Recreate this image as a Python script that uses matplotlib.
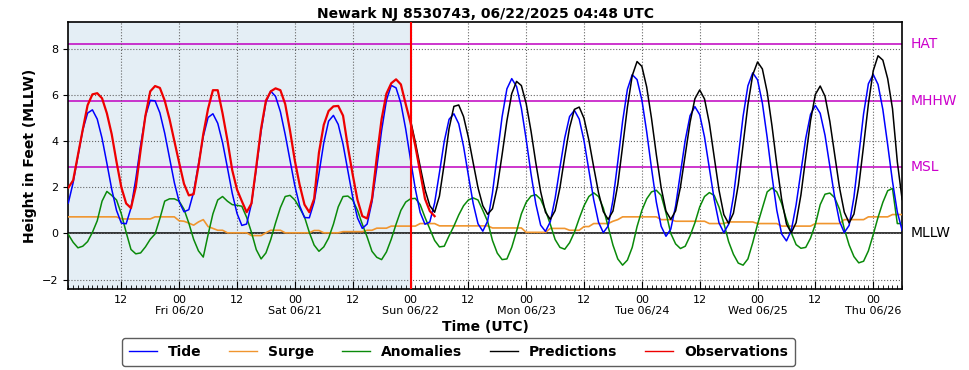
import numpy as np
import matplotlib
matplotlib.use("Agg")
import matplotlib.pyplot as plt
import matplotlib.dates as mdates
from matplotlib.ticker import FuncFormatter

# hourly values, hour 1 = 2025-06-19 01:00 UTC
tide = [1.32, 2.20, 3.36, 4.48, 5.21,
        5.35, 4.95, 4.12, 3.04, 1.92, 1.00, 0.45,
        0.42, 1.10, 2.36, 3.82, 5.08, 5.76,
        5.74, 5.22, 4.34, 3.26, 2.20, 1.37, 0.94,
        1.03, 1.79, 2.99, 4.20, 5.02,
        5.18, 4.77, 3.94, 2.86, 1.75, 0.87, 0.35,
        0.41, 1.29, 2.81, 4.43, 5.68, 6.16,
        5.93, 5.27, 4.28, 3.16, 2.06, 1.20, 0.69,
        0.68, 1.36, 2.59, 3.92, 4.86,
        5.11, 4.72, 3.86, 2.72, 1.57, 0.67, 0.22,
        0.41, 1.37, 2.84, 4.46, 5.76, 6.41,
        6.30, 5.63, 4.52, 3.20, 1.92, 0.91, 0.40,
        0.50, 1.32, 2.63, 3.99, 4.94,
        5.18, 4.75, 3.77, 2.52, 1.30, 0.42, 0.10,
        0.54, 1.75, 3.40, 5.05, 6.26, 6.70,
        6.36, 5.42, 4.07, 2.58, 1.28, 0.36,
        0.09, 0.51, 1.52, 2.86, 4.14, 5.06,
        5.33, 4.95, 4.01, 2.75, 1.47, 0.49, 0.04,
        0.32, 1.44, 3.10, 4.85, 6.24, 6.87,
        6.66, 5.78, 4.40, 2.82, 1.36, 0.31, -0.12,
        0.19, 1.19, 2.62, 4.04, 5.10, 5.49,
        5.14, 4.17, 2.83, 1.48, 0.46, 0.04,
        0.40, 1.60, 3.31, 5.07, 6.39, 6.95,
        6.65, 5.64, 4.15, 2.48, 1.00, -0.02,
        -0.32, 0.13, 1.24, 2.68, 4.12, 5.16, 5.54,
        5.20, 4.25, 2.92, 1.57, 0.53, 0.04,
        0.35, 1.57, 3.36, 5.18, 6.48, 6.88,
        6.45, 5.36, 3.84, 2.25, 0.93, 0.14]

surge = [0.72, 0.72, 0.72, 0.72, 0.72, 0.72, 0.72, 0.72, 0.72, 0.72, 0.72,
         0.63, 0.63, 0.63, 0.63, 0.63, 0.63, 0.63,
         0.72, 0.72, 0.72, 0.72, 0.72,
         0.55, 0.53, 0.45, 0.36, 0.50, 0.60, 0.30, 0.22, 0.14, 0.14,
         0.03, 0.03, 0.03, 0.03, 0.03,
         -0.09, -0.09, -0.09,
         0.03, 0.14, 0.14, 0.14,
         0.03, 0.03, 0.03, 0.03, 0.03, 0.03,
         0.13, 0.13,
         0.03, 0.03, 0.03, 0.03,
         0.08, 0.08, 0.08, 0.08, 0.08,
         0.14, 0.14,
         0.23, 0.23, 0.23,
         0.32, 0.32, 0.32, 0.32, 0.32, 0.32,
         0.43, 0.43, 0.43, 0.43,
         0.33, 0.33, 0.33, 0.33, 0.33, 0.33, 0.33, 0.33, 0.33, 0.33, 0.33,
         0.24, 0.24, 0.24, 0.24, 0.24, 0.24, 0.24,
         0.05, 0.05, 0.05, 0.05, 0.05,
         0.22, 0.22, 0.22, 0.22,
         0.14, 0.14, 0.14,
         0.30, 0.30,
         0.43, 0.43, 0.43, 0.43,
         0.53, 0.60,
         0.72, 0.72, 0.72, 0.72, 0.72, 0.72, 0.72, 0.72,
         0.60, 0.60, 0.60,
         0.53, 0.53, 0.53, 0.53, 0.53, 0.53, 0.53,
         0.43, 0.43, 0.43, 0.43,
         0.50, 0.50, 0.50, 0.50, 0.50, 0.50,
         0.43, 0.43, 0.43, 0.43, 0.43,
         0.32, 0.32, 0.32, 0.32, 0.32, 0.32, 0.32,
         0.43, 0.43, 0.43, 0.43, 0.43, 0.43,
         0.60, 0.60, 0.60, 0.60, 0.60,
         0.72, 0.72, 0.72, 0.72, 0.72,
         0.82, 0.82, 0.82]

anomalies = [-0.04, -0.38, -0.62, -0.55, -0.35, 0.05, 0.55, 1.40, 1.82,
             1.65, 1.45, 0.85, 0.05, -0.69, -0.88, -0.84, -0.58, -0.25, -0.02,
             0.65, 1.40, 1.50, 1.50, 1.40, 1.05, 0.45, -0.25, -0.75, -1.02,
             -0.05, 0.85, 1.45, 1.60, 1.40, 1.25, 1.22, 1.18, 0.70, 0.05,
             -0.70, -1.10, -0.84, -0.26, 0.46, 1.12, 1.60, 1.65, 1.45, 1.10,
             0.72, 0.05, -0.50, -0.77, -0.58, -0.20, 0.40, 1.15, 1.60,
             1.62, 1.45, 1.00, 0.40, -0.15, -0.77, -1.03, -1.13, -0.80, -0.25,
             0.40, 1.00, 1.36, 1.50, 1.52, 1.25, 0.70, 0.20, -0.30, -0.58,
             -0.55, -0.10, 0.32, 0.80, 1.20, 1.45, 1.54, 1.45,
             1.00, 0.52, -0.30, -0.85, -1.13, -1.10, -0.60, 0.10, 0.85, 1.35,
             1.62, 1.68, 1.48, 1.00, 0.40, -0.26, -0.60, -0.68, -0.40, 0.05,
             0.65, 1.20, 1.60, 1.76, 1.60, 1.10, 0.30, -0.50, -1.10,
             -1.37, -1.15, -0.60, 0.30, 1.00, 1.50, 1.80, 1.87, 1.65, 0.90,
             0.00, -0.45, -0.65, -0.55, -0.10, 0.46, 1.15, 1.60, 1.77, 1.65,
             1.15, 0.45, -0.35, -0.90, -1.28, -1.37, -1.10, -0.40, 0.40,
             1.10, 1.80, 1.97, 1.80, 1.30, 0.60, 0.03, -0.48, -0.64, -0.60,
             -0.20, 0.40, 1.25, 1.70, 1.75, 1.55, 1.05, 0.20, -0.50, -1.00,
             -1.27, -1.20, -0.75, -0.05, 0.70, 1.35, 1.85, 1.95, 0.43, 0.43]

# observations: hour 1 .. 77
observations = [1.98, 2.30, 3.40, 4.50, 5.55, 6.02, 6.07, 5.85, 5.20, 4.30,
                3.10, 2.00, 1.30, 1.10, 2.00, 3.60, 5.10, 6.15, 6.38, 6.30,
                5.75, 4.95, 4.00, 3.06, 2.15, 1.65, 1.70, 2.90, 4.30, 5.40,
                6.20, 6.20, 5.20, 4.05, 2.75, 1.90, 1.40, 0.92, 1.30, 2.90,
                4.55, 5.75, 6.15, 6.28, 6.20, 5.60, 4.45, 3.15, 2.10, 1.25,
                0.92, 1.50, 3.50, 4.70, 5.30, 5.50, 5.52, 5.10, 3.75, 2.55,
                1.45, 0.75, 0.65, 1.50, 3.30, 4.95, 6.05, 6.50, 6.67, 6.45,
                5.60, 4.79, 3.78, 2.65, 1.50, 0.97, 0.75]

# predictions: hour 72 .. 174
pred_start = 72
predictions = [4.90, 3.95, 2.90, 1.90, 1.20, 0.92,
               1.62, 3.03, 4.54, 5.50,
               5.56, 5.06, 4.16, 3.06, 1.98, 1.20, 0.83,
               1.07, 2.01, 3.41, 4.88, 6.05, 6.58,
               6.40, 5.62, 4.43, 3.05, 1.81, 0.92, 0.61,
               0.99, 1.98, 3.33, 4.58, 5.37,
               5.47, 4.98, 4.04, 2.88, 1.77, 0.95, 0.61,
               0.97, 2.11, 3.77, 5.47, 6.83, 7.44,
               7.23, 6.34, 4.98, 3.41, 1.98, 0.97, 0.61,
               0.98, 2.01, 3.41, 4.81, 5.83, 6.21,
               5.82, 4.77, 3.32, 1.88, 0.82, 0.43,
               0.88, 2.11, 3.84, 5.57, 6.87, 7.42,
               7.12, 6.12, 4.65, 2.98, 1.48, 0.41, 0.03,
               0.47, 1.67, 3.29, 4.89, 6.02, 6.38,
               5.94, 4.85, 3.42, 1.99, 0.92, 0.46,
               0.84, 2.05, 3.80, 5.61, 7.04, 7.69,
               7.50, 6.70, 5.40, 3.10, 1.47]

datums = {"HAT": 8.22, "MHHW": 5.74, "MSL": 2.87, "MLLW": 0.0}

base = np.datetime64("2025-06-19T00:00")
hour = np.timedelta64(1, "h")


def times(start, n):
    return base + (start + np.arange(n)) * hour


now = base + 72 * hour
x0 = base + 1 * hour
x1 = base + 174 * hour

fig = plt.figure(figsize=(9.69, 3.70), dpi=100)
ax = fig.add_axes([0.0705, 0.219, 0.8605, 0.7215])

ax.axvspan(x0, now, color="#e4eef5", zorder=0)

for name, val in datums.items():
    c = "black" if name == "MLLW" else "#c000c0"
    ax.axhline(val, color=c, lw=1.1, zorder=2)
    ax.text(1.01, val, name, transform=ax.get_yaxis_transform(),
            color="black" if name == "MLLW" else "#cc00cc",
            fontsize=10, va="center", ha="left")

ax.plot(times(1, len(tide)), tide, color="#0000ff", lw=1.1, label="Tide", zorder=4)
ax.plot(times(1, len(surge)), surge, color="#f0952e", lw=1.2, label="Surge", zorder=3)
ax.plot(times(1, len(anomalies)), anomalies, color="#0a8a0a", lw=1.1,
        label="Anomalies", zorder=3)
ax.plot(times(pred_start, len(predictions)), predictions, color="black", lw=1.1,
        label="Predictions", zorder=5)
ax.plot(times(1, len(observations)), observations, color="#ee0000", lw=1.6,
        label="Observations", zorder=6)
ax.axvline(now, color="#ff0000", lw=1.5, zorder=7)

ax.set_xlim(x0, x1)
ax.set_ylim(-2.4, 9.15)
ax.set_yticks([-2, 0, 2, 4, 6, 8])

ax.xaxis.set_major_locator(mdates.HourLocator(byhour=[0, 12]))
ax.xaxis.set_minor_locator(mdates.HourLocator())


def fmt(x, pos):
    d = mdates.num2date(x)
    if d.hour == 0:
        return "00\n" + d.strftime("%a %m/%d")
    return d.strftime("%H")


ax.xaxis.set_major_formatter(FuncFormatter(fmt))
ax.tick_params(axis="x", which="major", direction="in", length=6, labelsize=8, pad=4)
ax.tick_params(axis="x", which="minor", direction="in", length=3)
ax.tick_params(axis="y", labelsize=8)

ax.grid(True, which="major", color="#666666", linestyle=":", linewidth=0.8)
ax.set_axisbelow(False)
for s in ax.spines.values():
    s.set_linewidth(1.2)

ax.set_title("Newark NJ 8530743, 06/22/2025 04:48 UTC", fontsize=10,
             fontweight="bold", pad=3)
ax.set_ylabel("Height in Feet (MLLW)", fontsize=10, fontweight="bold")
ax.set_xlabel("Time (UTC)", fontsize=10, fontweight="bold", labelpad=3)

leg = fig.legend(loc="center", bbox_to_anchor=(0.473, 0.048), ncol=5,
                 prop={"weight": "bold", "size": 10}, frameon=True,
                 edgecolor="#333333", fancybox=True, handlelength=2.0,
                 columnspacing=2.0, borderpad=0.5)
for line in leg.get_lines():
    line.set_linewidth(1.0)

fig.savefig("out.png", dpi=100)
